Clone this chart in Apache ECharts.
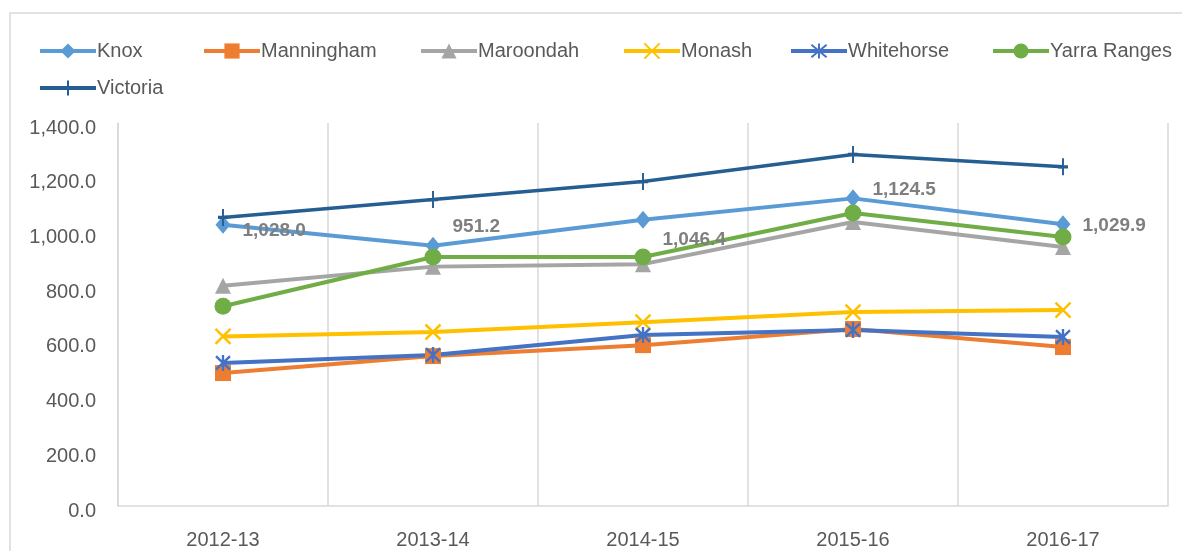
<!DOCTYPE html>
<html>
<head>
<meta charset="utf-8">
<script src="https://cdn.jsdelivr.net/npm/echarts@6/dist/echarts.min.js"></script>
<style>
  html, body { margin: 0; padding: 0; background: #fff; }
  #chart { width: 1182px; height: 551px; }
</style>
</head>
<body>
<div id="chart"></div>
<script>
// data
var years = ['2012-13', '2013-14', '2014-15', '2015-16', '2016-17'];
var knox = [1028.0, 951.2, 1046.4, 1124.5, 1029.9];
var manningham = [486, 548, 588, 647, 581];
var maroondah = [805, 875, 884, 1038, 947];
var monash = [620, 636, 672, 709, 716];
var whitehorse = [523, 552, 625, 643, 618];
var yarraRanges = [730, 910, 910, 1071, 983];
var victoria = [1055, 1120, 1186, 1285, 1240];
var yTicks = [0, 200, 400, 600, 800, 1000, 1200, 1400];

function fmt(v) {
    return Number(v).toLocaleString('en-US', {minimumFractionDigits: 1, maximumFractionDigits: 1});
}

// label offsets for Knox (Excel placed them by hand)
var knoxLabelOffsets = [[0, 6], [0, -19], [0, 20], [0, -9], [0, 2]];

var font = 'Liberation Sans';
var xPath = 'path://M0,0L10,10M10,0L0,10';
var starPath = 'path://M0,1L10,11M10,1L0,11M5,0L5,12';
var plusPath = 'path://M5,0L5,16M0,8L10,8';

function line(name, values, color, symbol, size, stroke) {
    var s = {
        name: name,
        type: 'line',
        data: values,
        symbol: symbol,
        symbolSize: size,
        lineStyle: {color: color, width: 4},
        itemStyle: {color: color},
        emphasis: {disabled: true}
    };
    if (stroke) {
        s.itemStyle = {color: color, borderColor: color, borderWidth: 2.5};
    }
    return s;
}

var series = [
    line('Knox', knox, '#5B9BD5', 'diamond', [15, 18]),
    line('Manningham', manningham, '#ED7D31', 'rect', 16),
    line('Maroondah', maroondah, '#A5A5A5', 'triangle', 16),
    line('Monash', monash, '#FFC000', xPath, 15, true),
    line('Whitehorse', whitehorse, '#4472C4', starPath, [14, 16], true),
    line('Yarra Ranges', yarraRanges, '#70AD47', 'circle', 17),
    line('Victoria', victoria, '#255E91', plusPath, [10, 17], true)
];
series[6].lineStyle.width = 3.5;

// Knox data labels
series[0].data = knox.map(function (v, i) {
    return {
        value: v,
        label: {
            show: true,
            position: 'right',
            distance: 12,
            offset: knoxLabelOffsets[i],
            formatter: function (p) { return fmt(p.value); },
            color: '#7F7F7F',
            fontWeight: 'bold',
            fontFamily: font,
            fontSize: 19
        }
    };
});

// one legend per entry so each sits where Excel put it
var legendPos = [
    ['Knox', 33, 36], ['Manningham', 197, 36], ['Maroondah', 414, 36],
    ['Monash', 617, 36], ['Whitehorse', 784, 36], ['Yarra Ranges', 986, 36],
    ['Victoria', 33, 73]
];
var legends = legendPos.map(function (l) {
    return {
        data: [l[0]],
        left: l[1],
        top: l[2],
        itemWidth: 56,
        itemHeight: 19,
        itemGap: 4,
        selectedMode: false,
        lineStyle: {width: 4},
        textStyle: {color: '#595959', fontFamily: font, fontSize: 20, padding: [0, 0, 0, -4]}
    };
});

var option = {
    animation: false,
    backgroundColor: '#fff',
    graphic: [{
        type: 'rect',
        shape: {x: 10, y: 13, width: 1300, height: 700},
        style: {fill: 'none', stroke: '#D9D9D9', lineWidth: 1.5},
        silent: true
    }],
    legend: legends,
    grid: {left: 118, right: 14, top: 123, bottom: 45, containLabel: false},
    xAxis: {
        type: 'category',
        data: years,
        boundaryGap: true,
        axisLine: {show: true, lineStyle: {color: '#D9D9D9', width: 1.5}},
        axisTick: {show: false},
        splitLine: {show: true, lineStyle: {color: '#D9D9D9', width: 1.5}},
        axisLabel: {color: '#595959', fontFamily: font, fontSize: 20, margin: 24}
    },
    yAxis: {
        type: 'value',
        min: 0,
        max: 1400,
        interval: 200,
        axisLine: {show: true, lineStyle: {color: '#D9D9D9', width: 1.5}},
        axisTick: {show: false},
        splitLine: {show: false},
        axisLabel: {
            color: '#595959', fontFamily: font, fontSize: 20, margin: 22,
            verticalAlign: 'top',
            lineHeight: 10,
            formatter: function (v) { return yTicks.indexOf(v) >= 0 ? fmt(v) : ''; }
        }
    },
    series: series
};

var chart = echarts.init(document.getElementById('chart'), null, {renderer: 'canvas'});
chart.setOption(option);
</script>
</body>
</html>
